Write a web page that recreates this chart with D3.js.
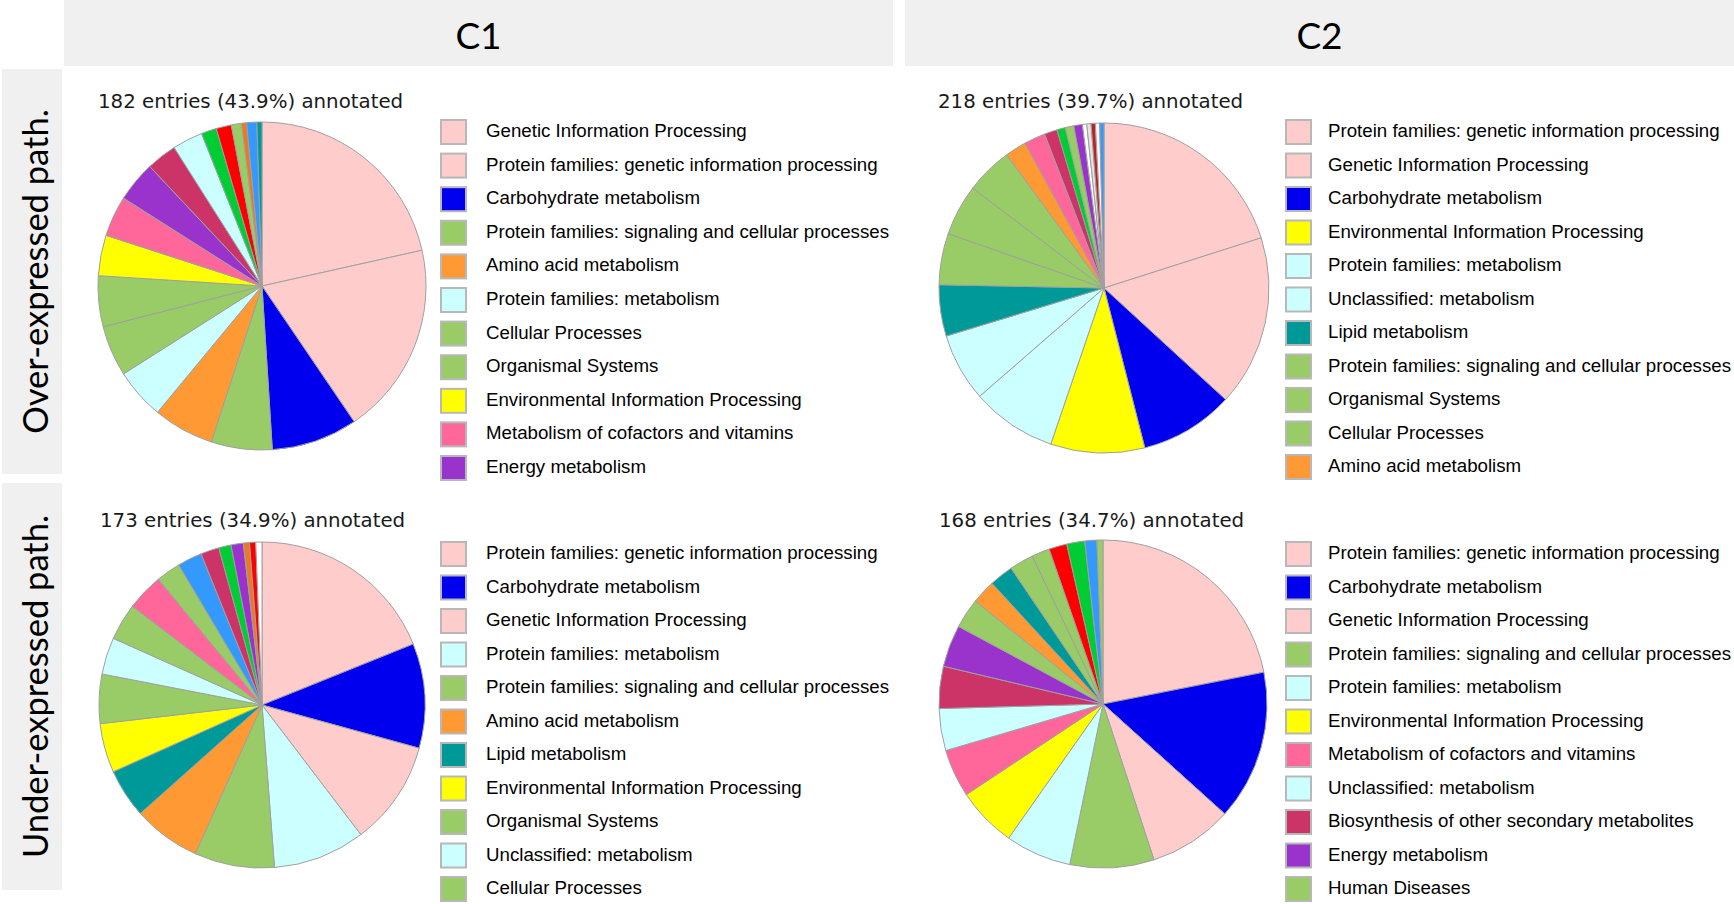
<!DOCTYPE html>
<html>
<head>
<meta charset="utf-8">
<script src="https://cdn.jsdelivr.net/npm/d3@7"></script>
<style>
	body { margin: 0; background: #fff; }
</style>
</head>
<body>
<svg id="svg1" width="1734" height="904"></svg>
<script>
// column / row headers
var col_labels = ['C1', 'C2'];
var row_labels = ['Over-expressed path.', 'Under-expressed path.'];

// panel titles
var titles = [
	'182 entries (43.9%) annotated',
	'218 entries (39.7%) annotated',
	'173 entries (34.9%) annotated',
	'168 entries (34.7%) annotated'
];

// C1, over-expressed
var c1_over_cats = ['Genetic Information Processing', 'Protein families: genetic information processing', 'Carbohydrate metabolism',
	'Protein families: signaling and cellular processes', 'Amino acid metabolism', 'Protein families: metabolism', 'Cellular Processes',
	'Organismal Systems', 'Environmental Information Processing', 'Metabolism of cofactors and vitamins', 'Energy metabolism',
	'Biosynthesis of other secondary metabolites', 'Unclassified: metabolism', 'Metabolism of terpenoids and polyketides',
	'Nucleotide metabolism', 'Human Diseases', 'Metabolism of other amino acids', 'Glycan biosynthesis and metabolism', 'Lipid metabolism'];
var c1_over_vals = [43, 38, 17, 12, 12, 10, 10, 10, 8, 8, 8, 6, 6, 3, 3, 2, 1, 2, 1];

// C2, over-expressed
var c2_over_cats = ['Protein families: genetic information processing', 'Genetic Information Processing', 'Carbohydrate metabolism',
	'Environmental Information Processing', 'Protein families: metabolism', 'Unclassified: metabolism', 'Lipid metabolism',
	'Protein families: signaling and cellular processes', 'Organismal Systems', 'Cellular Processes', 'Amino acid metabolism',
	'Metabolism of cofactors and vitamins', 'Biosynthesis of other secondary metabolites', 'Metabolism of terpenoids and polyketides',
	'Human Diseases', 'Energy metabolism', 'Not Included in Pathway or Brite', 'Brite Hierarchies',
	'Xenobiotics biodegradation and metabolism', 'Unclassified: genetic information processing', 'Glycan biosynthesis and metabolism'];
var c2_over_vals = [48, 40, 22, 22, 20, 16, 12, 12, 12, 11, 5, 5, 3, 2, 2, 2, 1, 1, 1, 1, 1];

// C1, under-expressed
var c1_under_cats = ['Protein families: genetic information processing', 'Carbohydrate metabolism', 'Genetic Information Processing',
	'Protein families: metabolism', 'Protein families: signaling and cellular processes', 'Amino acid metabolism', 'Lipid metabolism',
	'Environmental Information Processing', 'Organismal Systems', 'Unclassified: metabolism', 'Cellular Processes',
	'Metabolism of cofactors and vitamins', 'Human Diseases', 'Glycan biosynthesis and metabolism',
	'Biosynthesis of other secondary metabolites', 'Metabolism of terpenoids and polyketides', 'Energy metabolism',
	'Metabolism of other amino acids', 'Nucleotide metabolism', 'Not Included in Pathway or Brite'];
var c1_under_vals = [31, 17, 17, 15, 13, 11, 8, 8, 8, 6, 6, 6, 4, 4, 3, 2, 2, 1, 1, 1];

// C2, under-expressed
var c2_under_cats = ['Protein families: genetic information processing', 'Carbohydrate metabolism', 'Genetic Information Processing',
	'Protein families: signaling and cellular processes', 'Protein families: metabolism', 'Environmental Information Processing',
	'Metabolism of cofactors and vitamins', 'Unclassified: metabolism', 'Biosynthesis of other secondary metabolites',
	'Energy metabolism', 'Human Diseases', 'Amino acid metabolism', 'Lipid metabolism', 'Cellular Processes', 'Organismal Systems',
	'Nucleotide metabolism', 'Metabolism of terpenoids and polyketides', 'Glycan biosynthesis and metabolism',
	'Unclassified: signaling and cellular processes'];
var c2_under_vals = [37, 25, 14, 14, 11, 10, 8, 7, 7, 7, 5, 4, 4, 4, 3, 3, 3, 2, 1];

var legend_n = 11;

// category colours (KEGG style)
var cat_colors = {
	'Genetic Information Processing': '#ffcccc',
	'Protein families: genetic information processing': '#ffcccc',
	'Unclassified: genetic information processing': '#fff4f4',
	'Carbohydrate metabolism': '#0000ee',
	'Protein families: signaling and cellular processes': '#99cc66',
	'Unclassified: signaling and cellular processes': '#99cc66',
	'Cellular Processes': '#99cc66',
	'Organismal Systems': '#99cc66',
	'Human Diseases': '#99cc66',
	'Amino acid metabolism': '#ff9933',
	'Metabolism of other amino acids': '#ee7722',
	'Protein families: metabolism': '#ccffff',
	'Unclassified: metabolism': '#ccffff',
	'Environmental Information Processing': '#ffff00',
	'Metabolism of cofactors and vitamins': '#ff6699',
	'Energy metabolism': '#9933cc',
	'Biosynthesis of other secondary metabolites': '#cc3366',
	'Metabolism of terpenoids and polyketides': '#00cc33',
	'Nucleotide metabolism': '#ff0000',
	'Glycan biosynthesis and metabolism': '#3399ff',
	'Lipid metabolism': '#009999',
	'Xenobiotics biodegradation and metabolism': '#c02020',
	'Not Included in Pathway or Brite': '#ffffff',
	'Brite Hierarchies': '#e4e4e4'
};

var panels = [
	{cats: c1_over_cats, vals: c1_over_vals, title: titles[0], cx: 262, cy: 286, r: 164, tx: 98, ty: 108, lx: 441, ltx: 486, ly0: 132, ly1: 468},
	{cats: c2_over_cats, vals: c2_over_vals, title: titles[1], cx: 1104, cy: 288, r: 165, tx: 938, ty: 108, lx: 1286, ltx: 1328, ly0: 132, ly1: 467},
	{cats: c1_under_cats, vals: c1_under_vals, title: titles[2], cx: 262, cy: 705, r: 163, tx: 100, ty: 527, lx: 441, ltx: 486, ly0: 554, ly1: 889},
	{cats: c2_under_cats, vals: c2_under_vals, title: titles[3], cx: 1103, cy: 704, r: 164, tx: 939, ty: 527, lx: 1286, ltx: 1328, ly0: 554, ly1: 889}
];

var svg = d3.select('#svg1');

// header bands
var col_x = [[64, 893], [905, 1734]];
svg.selectAll('rect.colband').data(col_labels).enter().append('rect')
	.attr('x', (d, i) => col_x[i][0])
	.attr('y', 0)
	.attr('width', (d, i) => col_x[i][1] - col_x[i][0])
	.attr('height', 66)
	.attr('fill', '#f0f0f0')
svg.selectAll('text.collab').data(col_labels).enter().append('text')
	.attr('x', (d, i) => (col_x[i][0] + col_x[i][1]) / 2)
	.attr('y', 34)
	.attr('text-anchor', 'middle')
	.attr('dominant-baseline', 'central')
	.attr('font-family', 'Lato, sans-serif')
	.attr('font-size', 37)
	.attr('fill', '#000')
	.text(d => d)

var row_y = [[69, 474], [483, 890]];
svg.selectAll('rect.rowband').data(row_labels).enter().append('rect')
	.attr('x', 2)
	.attr('y', (d, i) => row_y[i][0])
	.attr('width', 60)
	.attr('height', (d, i) => row_y[i][1] - row_y[i][0])
	.attr('fill', '#f0f0f0')
svg.selectAll('text.rowlab').data(row_labels).enter().append('text')
	.attr('transform', (d, i) => 'translate(34,' + ((row_y[i][0] + row_y[i][1]) / 2) + ') rotate(-90)')
	.attr('text-anchor', 'middle')
	.attr('dominant-baseline', 'central')
	.attr('font-family', 'Lato, sans-serif')
	.attr('font-size', 34.5)
	.attr('fill', '#000')
	.text(d => d)

var pie = d3.pie().sort(null).value(d => d.v);

panels.forEach(function(p) {
	var data = p.cats.map((c, i) => ({cat: c, v: p.vals[i]}));
	var arc = d3.arc().innerRadius(0).outerRadius(p.r);
	var g = svg.append('g').attr('transform', 'translate(' + p.cx + ',' + p.cy + ')');

	g.selectAll('path').data(pie(data)).enter().append('path')
		.attr('d', arc)
		.attr('fill', d => cat_colors[d.data.cat])
		.attr('stroke', '#a0a0a0')
		.attr('stroke-width', 1)

	svg.append('text')
		.attr('x', p.tx)
		.attr('y', p.ty)
		.attr('font-family', 'DejaVu Sans, Verdana, sans-serif')
		.attr('font-size', 19.8)
		.attr('fill', '#1a1a1a')
		.text(p.title)

	var leg_cats = p.cats.slice(0, legend_n);
	var y = d3.scalePoint().domain(leg_cats).range([p.ly0, p.ly1]);
	var lg = svg.append('g');
	lg.selectAll('rect').data(leg_cats).enter().append('rect')
		.attr('x', p.lx)
		.attr('y', d => y(d) - 12)
		.attr('width', 25)
		.attr('height', 24)
		.attr('fill', d => cat_colors[d])
		.attr('stroke', '#b8b8b8')
		.attr('stroke-width', 2)
	lg.selectAll('text').data(leg_cats).enter().append('text')
		.attr('x', p.ltx)
		.attr('y', d => y(d) - 1.5)
		.attr('dominant-baseline', 'central')
		.attr('font-family', 'Liberation Sans, Arial, sans-serif')
		.attr('font-size', 18.7)
		.attr('fill', '#000')
		.text(d => d)
});
</script>
</body>
</html>
